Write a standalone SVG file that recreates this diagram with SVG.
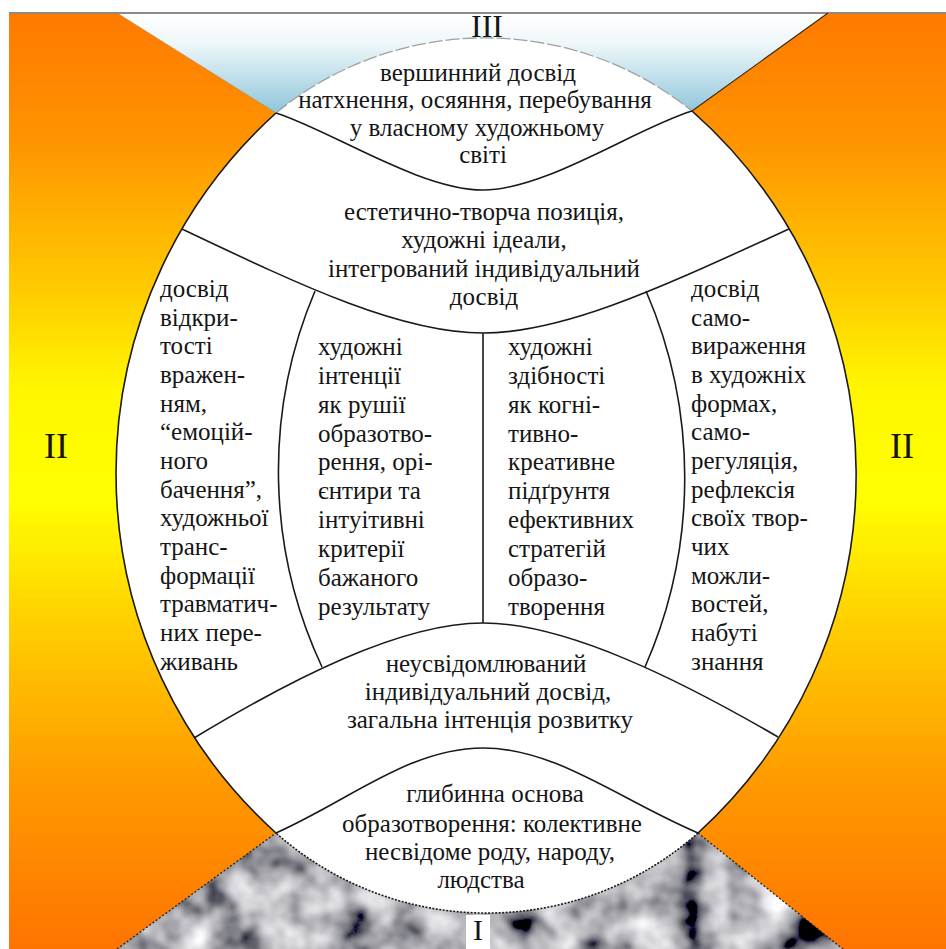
<svg xmlns="http://www.w3.org/2000/svg" width="946" height="949" viewBox="0 0 946 949">
<style>
  .t { font-family: "Liberation Serif", "DejaVu Serif", serif; font-size: 25px; fill: #151515; }
  .c { text-anchor: middle; }
  .rn { font-family: "Liberation Serif", "DejaVu Serif", serif; fill: #151515; text-anchor: middle; }
  .ln { fill: none; stroke: #1a1a1a; stroke-width: 1.6; }
</style>
<defs>
  <linearGradient id="side" x1="0" y1="13" x2="0" y2="949" gradientUnits="userSpaceOnUse">
    <stop offset="0" stop-color="#ff7a00"/>
    <stop offset="0.13" stop-color="#ff9200"/>
    <stop offset="0.3" stop-color="#ffcc00"/>
    <stop offset="0.4" stop-color="#fff600"/>
    <stop offset="0.52" stop-color="#ffff00"/>
    <stop offset="0.66" stop-color="#ffcc00"/>
    <stop offset="0.82" stop-color="#ff9a00"/>
    <stop offset="1" stop-color="#ff7400"/>
  </linearGradient>
  <linearGradient id="sky" x1="0" y1="13" x2="0" y2="115" gradientUnits="userSpaceOnUse">
    <stop offset="0" stop-color="#ffffff"/>
    <stop offset="0.3" stop-color="#eef7fa"/>
    <stop offset="1" stop-color="#8cc4d8"/>
  </linearGradient>
  <filter id="cloud" x="0" y="0" width="1" height="1">
    <feTurbulence type="fractalNoise" baseFrequency="0.024" numOctaves="3" seed="11" result="n"/>
    <feColorMatrix in="n" type="matrix" values="1.6 0 0 0 -0.36  1.6 0 0 0 -0.36  1.6 0 0 0 -0.33  0 0 0 0 1" result="g"/>
    <feComposite in="g" in2="SourceGraphic" operator="in"/>
  </filter>
</defs>

<g id="background">
  <rect x="0" y="0" width="946" height="949" fill="#ffffff"/>
  <rect x="9" y="13" width="937" height="936" fill="url(#side)"/>
  <polygon points="117,13 828,13 692,111 483,200 276,113" fill="url(#sky)"/>
  <polygon points="117,949 276,833 483,840 698,833 843,949" fill="#808080" filter="url(#cloud)"/>
  <line x1="9" y1="13" x2="946" y2="13" stroke="#8a8a8a" stroke-width="2"/>
  <line x1="828" y1="13" x2="692" y2="111" stroke="#3a2a1a" stroke-width="1.2"/>
  <line x1="117" y1="13" x2="276" y2="113" stroke="#c07030" stroke-width="0.8" opacity="0.6"/>
  <line x1="117" y1="949" x2="276" y2="833" stroke="#222" stroke-width="1.3" stroke-dasharray="2 2"/>
  <line x1="698" y1="833" x2="843" y2="949" stroke="#222" stroke-width="1.3" stroke-dasharray="2 2"/>
  <path d="M276,113 A329,329 0 0 1 692,111 A485,485 0 0 1 698,833 A318,318 0 0 1 276,833 A485,485 0 0 1 276,113 Z" fill="#ffffff"/>
</g>

<g id="connectors">
  <path class="ln" d="M692,111 A485,485 0 0 1 698,833"/>
  <path class="ln" d="M276,833 A485,485 0 0 1 276,113"/>
  <path fill="none" stroke="#a0a0a0" stroke-width="1.3" stroke-dasharray="14 3" d="M276,113 A329,329 0 0 1 692,111"/>
  <path fill="none" stroke="#1a1a1a" stroke-width="1.6" stroke-dasharray="2 1.5" d="M698,833 A318,318 0 0 1 276,833"/>
  <path class="ln" d="M276,113 C330,130 420,190 483,190 C546,190 636,128 692,111"/>
  <path class="ln" d="M182,229 C300,285 400,333 483,333 C566,333 666,285 789,229"/>
  <path class="ln" d="M315,291 A462,462 0 0 0 322,667"/>
  <line class="ln" x1="483" y1="333" x2="483" y2="623"/>
  <path class="ln" d="M646,291 A470,470 0 0 1 645,667"/>
  <path class="ln" d="M194,738 C290,680 400,623 483,623 C566,623 680,680 778,737"/>
  <path class="ln" d="M276,833 C350,800 410,748 483,748 C556,748 620,800 698,833"/>
</g>

<g id="lbl-III"><text class="rn" x="487" y="37" font-size="32">III</text></g>
<g id="lbl-II-left"><text class="rn" x="56" y="458" font-size="36">II</text></g>
<g id="lbl-II-right"><text class="rn" x="902" y="458" font-size="36">II</text></g>
<g id="lbl-I">
  <rect x="466" y="915" width="24" height="34" fill="#ffffff"/>
  <text class="rn" x="478" y="940" font-size="30">I</text>
</g>

<g id="n-peak" class="t c">
  <text x="478" y="81">вершинний досвід</text>
  <text x="475" y="108">натхнення, осяяння, перебування</text>
  <text x="477" y="136">у  власному художньому</text>
  <text x="483" y="163">світі</text>
</g>

<g id="n-position" class="t c">
  <text x="484" y="220">естетично-творча позиція,</text>
  <text x="484" y="248">художні ідеали,</text>
  <text x="484" y="277">інтегрований індивідуальний</text>
  <text x="484" y="305">досвід</text>
</g>

<g id="n-openness" class="t">
  <text x="160" y="297">досвід</text>
  <text x="160" y="326">відкри-</text>
  <text x="160" y="354">тості</text>
  <text x="160" y="383">вражен-</text>
  <text x="160" y="412">ням,</text>
  <text x="160" y="440">“емоцій-</text>
  <text x="160" y="469">ного</text>
  <text x="160" y="498">бачення”,</text>
  <text x="160" y="526">художньої</text>
  <text x="160" y="555">транс-</text>
  <text x="160" y="584">формації</text>
  <text x="160" y="612">травматич-</text>
  <text x="160" y="641">них пере-</text>
  <text x="160" y="670">живань</text>
</g>

<g id="n-intentions" class="t">
  <text x="318" y="355">художні</text>
  <text x="318" y="384">інтенції</text>
  <text x="318" y="413">як рушії</text>
  <text x="318" y="442">образотво-</text>
  <text x="318" y="470">рення, орі-</text>
  <text x="318" y="499">єнтири та</text>
  <text x="318" y="528">інтуітивні</text>
  <text x="318" y="557">критерії</text>
  <text x="318" y="586">бажаного</text>
  <text x="318" y="615">результату</text>
</g>

<g id="n-abilities" class="t">
  <text x="508" y="355">художні</text>
  <text x="508" y="384">здібності</text>
  <text x="508" y="413">як когні-</text>
  <text x="508" y="442">тивно-</text>
  <text x="508" y="470">креативне</text>
  <text x="508" y="499">підґрунтя</text>
  <text x="508" y="528">ефективних</text>
  <text x="508" y="557">стратегій</text>
  <text x="508" y="586">образо-</text>
  <text x="508" y="615">творення</text>
</g>

<g id="n-selfexpression" class="t">
  <text x="691" y="297">досвід</text>
  <text x="691" y="326">само-</text>
  <text x="691" y="354">вираження</text>
  <text x="691" y="383">в художніх</text>
  <text x="691" y="412">формах,</text>
  <text x="691" y="440">само-</text>
  <text x="691" y="469">регуляція,</text>
  <text x="691" y="498">рефлексія</text>
  <text x="691" y="526">своїх твор-</text>
  <text x="691" y="555">чих</text>
  <text x="691" y="584">можли-</text>
  <text x="691" y="612">востей,</text>
  <text x="691" y="641">набуті</text>
  <text x="691" y="670">знання</text>
</g>

<g id="n-unconscious" class="t c">
  <text x="486" y="672">неусвідомлюваний</text>
  <text x="488" y="700">індивідуальний досвід,</text>
  <text x="490" y="728">загальна інтенція розвитку</text>
</g>

<g id="n-deep" class="t c">
  <text x="495" y="802">глибинна основа</text>
  <text x="492" y="832">образотворення: колективне</text>
  <text x="490" y="860">несвідоме роду, народу,</text>
  <text x="481" y="888">людства</text>
</g>
</svg>
